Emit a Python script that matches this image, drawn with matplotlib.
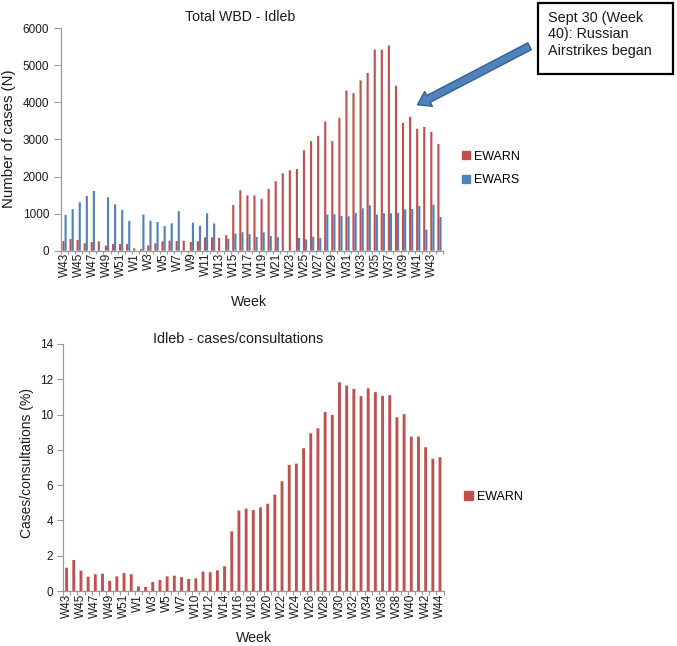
import numpy as np
import matplotlib
matplotlib.use("Agg")
import matplotlib.pyplot as plt
from matplotlib.patches import FancyArrowPatch, Rectangle, Patch

plt.rcParams['font.family'] = ['Liberation Sans', 'DejaVu Sans']

# ---------------- data ----------------
weeks_total = ([f"W{w}" for w in range(43, 53)] + [f"W{w}" for w in range(1, 45)])
ewarn_total = [260, 320, 290, 200, 235, 255, 135, 180, 180, 180,
               65, 50, 145, 200, 255, 270, 260, 270, 235, 255,
               360, 360, 345, 420, 1235, 1630, 1490, 1490, 1400, 1665,
               1875, 2090, 2170, 2205, 2710, 2955, 3100, 3485, 2955, 3585,
               4320, 4250, 4595, 4795, 5425, 5425, 5540, 4450, 3450, 3615,
               3290, 3340, 3205, 2880]
ewars_total = [965, 1120, 1305, 1475, 1610, 0, 1440, 1250, 1100, 805,
               0, 975, 810, 775, 665, 740, 1065, 0, 757, 676,
               1010, 735, 0, 324, 465, 497, 450, 369, 495, 396,
               369, 0, 0, 342, 306, 378, 342, 973, 982, 937,
               928, 1018, 1144, 1225, 973, 1009, 1009, 1018, 1117, 1126,
               1207, 568, 1243, 910]

weeks_ratio = ([f"W{w}" for w in range(43, 53)] + [f"W{w}" for w in range(1, 9)]
               + [f"W{w}" for w in range(10, 45)])
ewarn_ratio = [1.32, 1.76, 1.15, 0.81, 0.95, 0.98, 0.57, 0.83, 1.02, 0.95,
               0.26, 0.23, 0.51, 0.62, 0.83, 0.87, 0.79, 0.68,
               0.72, 1.10, 1.06, 1.17, 1.40, 3.38, 4.56, 4.67, 4.59, 4.74,
               4.95, 5.46, 6.22, 7.15, 7.22, 8.09, 8.94, 9.22, 10.15, 9.98,
               11.83, 11.64, 11.46, 11.04, 11.49, 11.27, 11.06, 11.10, 9.85, 10.02,
               8.75, 8.75, 8.15, 7.50, 7.58]

RED = '#C0504D'
BLUE = '#4F81BD'
SPINE = '#999999'
TXT = '#1a1a1a'

W, H = 677, 646
fig = plt.figure(figsize=(W / 100, H / 100), dpi=100)


def fx(x):
    return x / W


def fy(y):
    return 1 - y / H


def style_axes(ax, n, ylen, ypad, xlen, xpad):
    for s in ['top', 'right']:
        ax.spines[s].set_visible(False)
    for s in ['left', 'bottom']:
        ax.spines[s].set_color(SPINE)
        ax.spines[s].set_linewidth(0.9)
    ax.set_xlim(-0.5, n - 0.5)
    ax.set_xticks(np.arange(0, n, 2))
    ax.set_xticks(np.arange(-0.5, n, 1), minor=True)
    ax.tick_params(axis='x', which='major', length=0, pad=xpad, labelsize=8.5,
                   labelcolor=TXT, rotation=90)
    ax.tick_params(axis='x', which='minor', length=xlen, color=SPINE, width=0.8)
    ax.tick_params(axis='y', which='major', length=ylen, pad=ypad, color=SPINE,
                   width=0.8, labelsize=8.5, labelcolor=TXT)


# ---------------- top chart ----------------
ax1 = fig.add_axes([fx(61), fy(250.7), fx(443) - fx(61), fy(28.3) - fy(250.7)])
x1 = np.arange(len(weeks_total))
bw = 0.3
bars_r = ax1.bar(x1 - 0.15, ewarn_total, width=bw, color=RED, linewidth=0, label='EWARN')
bars_b = ax1.bar(x1 + 0.15, ewars_total, width=bw, color=BLUE, linewidth=0, label='EWARS')
for p in list(bars_r) + list(bars_b):
    p.set_snap(False)
ax1.set_ylim(0, 6000)
ax1.set_yticks(np.arange(0, 6001, 1000))
style_axes(ax1, len(weeks_total), 5, 3.6, 2.2, 1.5)
ax1.set_xticklabels(weeks_total[::2])

fig.text(fx(240.5), fy(16.7), 'Total WBD - Idleb', ha='center', va='center',
         fontsize=10.2, color=TXT)
fig.text(fx(249), fy(301.7), 'Week', ha='center', va='center', fontsize=10.2, color=TXT)
fig.text(fx(9), fy(138.5), 'Number of cases (N)', ha='center', va='center',
         rotation=90, fontsize=10.8, color=TXT)

fig.legend(handles=[Patch(color=RED), Patch(color=BLUE)], labels=['EWARN', 'EWARS'],
           loc='center left', bbox_to_anchor=(fx(462), fy(168.5)), frameon=False,
           fontsize=9, handlelength=0.6, handleheight=0.6, handletextpad=0.35,
           labelspacing=0.95, borderpad=0, borderaxespad=0)

# annotation box and arrow
fig.add_artist(Rectangle((fx(537.7), fy(74)), fx(672.7) - fx(537.7), fy(2.7) - fy(74),
                         transform=fig.transFigure, facecolor='white',
                         edgecolor='black', linewidth=1.6))
fig.text(fx(547.7), fy(34.3), 'Sept 30 (Week\n40): Russian\nAirstrikes began',
         ha='left', va='center', fontsize=10.4, linespacing=1.2, color=TXT)
fig.add_artist(FancyArrowPatch((fx(532), fy(45)), (fx(415), fy(106)),
                               transform=fig.transFigure,
                               arrowstyle='simple,head_length=9,head_width=12,tail_width=5.5',
                               mutation_scale=1, facecolor=BLUE, edgecolor='#3A5F8E',
                               linewidth=1.0))

# ---------------- bottom chart ----------------
ax2 = fig.add_axes([fx(63), fy(591), fx(443.6) - fx(63), fy(344) - fy(591)])
x2 = np.arange(len(weeks_ratio))
bars2 = ax2.bar(x2, ewarn_ratio, width=0.4, color=RED, linewidth=0, label='EWARN')
for p in bars2:
    p.set_snap(False)
ax2.set_ylim(0, 14)
ax2.set_yticks(np.arange(0, 15, 2))
style_axes(ax2, len(weeks_ratio), 4, 3.2, 3.2, 2.2)
ax2.set_xticklabels(weeks_ratio[::2])

fig.text(fx(238), fy(339.3), 'Idleb - cases/consultations', ha='center', va='center',
         fontsize=10.4, color=TXT)
fig.text(fx(254), fy(638.3), 'Week', ha='center', va='center', fontsize=10.2, color=TXT)
fig.text(fx(27), fy(463.5), 'Cases/consultations (%)', ha='center', va='center',
         rotation=90, fontsize=10, color=TXT)

fig.legend(handles=[Patch(color=RED)], labels=['EWARN'],
           loc='center left', bbox_to_anchor=(fx(464), fy(497)), frameon=False,
           fontsize=9, handlelength=0.7, handleheight=0.7, handletextpad=0.3,
           borderpad=0, borderaxespad=0)

fig.savefig('out.png', dpi=100)
